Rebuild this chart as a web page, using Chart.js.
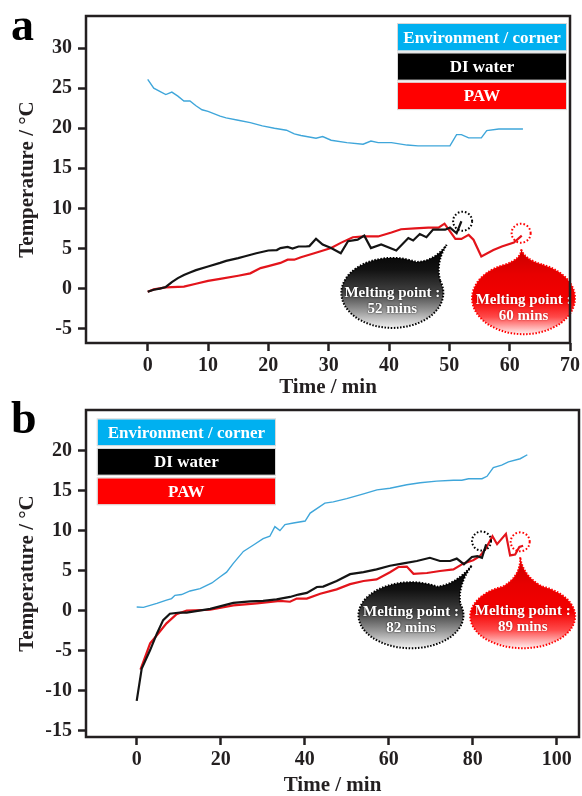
<!DOCTYPE html>
<html>
<head>
<meta charset="utf-8">
<script src="https://cdn.jsdelivr.net/npm/chart.js@4"></script>
<style>
  body { margin: 0; background: #fff; }
  #wrap { position: relative; width: 582px; height: 796px; }
  canvas { position: absolute; left: 0; }
</style>
</head>
<body>
<div id="wrap">
  <canvas id="chartA" width="582" height="398" style="top:0"></canvas>
  <canvas id="chartB" width="582" height="398" style="top:398px"></canvas>
</div>
<script>
// series names, shared by both panels
const seriesNames = ['Environment / corner', 'DI water', 'PAW'];

// ---- panel a ----
const timeEnvA = [0, 1, 2, 3, 4, 5, 6, 7, 8, 9, 10, 12, 13, 15, 17, 19, 21, 23, 24.3, 25.4, 27.9, 29, 30.4, 33, 35.7, 37, 38.2, 40.4, 43, 44.8, 50.1, 51.2, 52, 53.2, 55.3, 56.2, 58.2, 62.2];
const envA     = [26.1, 25.0, 24.6, 24.2, 24.5, 24.0, 23.4, 23.4, 22.8, 22.3, 22.1, 21.5, 21.3, 21.0, 20.7, 20.3, 20.0, 19.75, 19.3, 19.1, 18.75, 18.96, 18.5, 18.2, 18.0, 18.4, 18.2, 18.2, 17.9, 17.8, 17.8, 19.2, 19.2, 18.8, 18.8, 19.7, 19.9, 19.9];
const timeDiA  = [0, 1, 2, 3, 4, 5, 6, 7, 8, 10, 12, 13, 15, 16, 18, 20, 21.4, 22, 23.2, 24, 25, 26.2, 26.8, 27.9, 29, 30.4, 32, 33.2, 34.8, 35.9, 37, 38.7, 41.2, 43.2, 44, 45.1, 46.2, 47.3, 49.3, 50.1, 51.2, 52];
const diA      = [-0.4, -0.15, 0.0, 0.2, 0.8, 1.3, 1.7, 2.0, 2.3, 2.75, 3.2, 3.45, 3.8, 4.0, 4.4, 4.75, 4.8, 5.05, 5.2, 5.0, 5.25, 5.25, 5.3, 6.2, 5.5, 5.05, 4.4, 5.9, 6.1, 6.6, 5.05, 5.5, 4.75, 6.3, 6.0, 6.8, 6.4, 7.35, 7.35, 7.6, 6.9, 8.4];
const timePawA = [0, 1, 3, 6, 8, 10, 12, 15, 17, 18.7, 20, 22, 23.2, 24.3, 25.4, 27.6, 30.4, 32, 34, 35.9, 38.2, 40.4, 42, 44.3, 46.5, 48.2, 49.2, 51, 52, 53.2, 54, 55.3, 57.3, 58.7, 60.7, 62];
const pawA     = [-0.4, -0.1, 0.15, 0.25, 0.6, 0.95, 1.2, 1.6, 1.9, 2.55, 2.8, 3.2, 3.6, 3.6, 3.9, 4.4, 5.05, 5.7, 6.4, 6.5, 6.5, 7.0, 7.4, 7.5, 7.6, 7.6, 8.1, 6.2, 6.2, 6.7, 6.1, 4.0, 4.8, 5.25, 5.75, 6.6];
const xTicksA = [0, 10, 20, 30, 40, 50, 60, 70];
const yTicksA = [-5, 0, 5, 10, 15, 20, 25, 30];

// ---- panel b ----
const timeEnvB = [0, 1.6, 4.8, 7.1, 8.3, 9.1, 10.7, 12.7, 15.1, 17.9, 19.8, 21.4, 23, 25.4, 27.8, 30.1, 31.7, 32.9, 34.1, 35.3, 37.3, 40.1, 41.3, 44.8, 46.8, 50, 54, 57.2, 60.3, 64.3, 67.5, 71.4, 75.4, 77.4, 79, 82.2, 83.4, 84.9, 86.9, 88.5, 91.3, 93];
const envB     = [0.45, 0.4, 0.9, 1.3, 1.5, 1.9, 2.0, 2.45, 2.75, 3.45, 4.2, 4.8, 5.9, 7.4, 8.2, 9.0, 9.3, 10.5, 10.0, 10.75, 10.95, 11.2, 12.2, 13.45, 13.6, 14.0, 14.6, 15.1, 15.3, 15.75, 16.0, 16.2, 16.3, 16.3, 16.5, 16.5, 16.8, 17.9, 18.2, 18.6, 19.0, 19.5];
const timeDiB  = [0, 1.2, 3.2, 4.8, 6.3, 7.9, 10.3, 11.9, 17.5, 23, 27, 30.1, 33.3, 36.5, 38.5, 40.5, 42.9, 44.4, 47.6, 50.8, 54, 57.1, 60.3, 63.5, 66.7, 69.8, 72.2, 74.6, 76.2, 77.9, 79.8, 81.1, 82.2, 83.2];
const diB      = [-11.3, -7.25, -4.95, -2.9, -1.2, -0.4, -0.25, -0.25, 0.2, 0.95, 1.15, 1.2, 1.4, 1.7, 2.0, 2.2, 2.95, 3.0, 3.7, 4.55, 4.8, 5.15, 5.6, 5.9, 6.2, 6.6, 6.2, 6.2, 6.5, 5.8, 6.7, 6.8, 6.6, 8.3];
const timePawB = [0.9, 3.2, 4.8, 7.1, 9.5, 11.9, 17.5, 23, 28.6, 34.1, 36.5, 38.1, 40.5, 43.7, 47.6, 50.8, 54, 57.1, 60.3, 62.3, 64.3, 65.9, 69.1, 72.2, 75.4, 77.8, 80.1, 81.7, 83.1, 84.7, 85.8, 87.9, 88.9, 90.1, 91.1, 92];
const pawB     = [-7.4, -4.1, -3.1, -1.6, -0.45, 0.0, 0.1, 0.65, 0.9, 1.2, 1.1, 1.5, 1.5, 2.1, 2.65, 3.3, 3.7, 3.9, 4.8, 5.45, 5.5, 4.6, 4.7, 4.95, 5.15, 5.9, 6.3, 6.8, 7.75, 9.3, 8.3, 9.6, 6.9, 7.0, 7.95, 8.1];
const xTicksB = [0, 20, 40, 60, 80, 100];
const yTicksB = [-15, -10, -5, 0, 5, 10, 15, 20];

// melting points (minutes, °C at the circled point)
const meltA = [{ label: '52 mins', x: 52.2, y: 8.4 }, { label: '60 mins', x: 61.9, y: 6.9 }];
const meltB = [{ label: '82 mins', x: 82.1, y: 8.7 }, { label: '89 mins', x: 91.3, y: 8.6 }];

const ink = '#231f20';
const lineColors = ['#3fa6da', '#141414', '#e3141b'];
const legendColors = ['#00b0f0', '#000000', '#ff0000'];
const serif = "'Liberation Serif', 'Times New Roman', serif";
Chart.defaults.font.family = serif;

function pairs(xs, ys) {
  return xs.map((x, i) => ({ x: x, y: ys[i] }));
}

function drawBubble(ctx, sx, sy, b, dark, text) {
  const cx = sx.getPixelForValue(b.center[0]), cy = sy.getPixelForValue(b.center[1]);
  const tx = sx.getPixelForValue(b.tip[0]), ty = sy.getPixelForValue(b.tip[1]);
  const r1 = b.base[0] * Math.PI / 180, r2 = b.base[1] * Math.PI / 180;
  const p1 = { x: cx + b.rx * Math.cos(r1), y: cy + b.ry * Math.sin(r1) };
  const p2 = { x: cx + b.rx * Math.cos(r2), y: cy + b.ry * Math.sin(r2) };
  const mx = (p1.x + p2.x) / 2, my = (p1.y + p2.y) / 2;
  const ctl = p => ({ x: p.x + (tx - p.x) * 0.35 + (mx - p.x) * 0.6, y: p.y + (ty - p.y) * 0.35 + (my - p.y) * 0.6 });
  const c1 = ctl(p1), c2 = ctl(p2);

  ctx.save();
  ctx.beginPath();
  ctx.moveTo(p2.x, p2.y);
  ctx.ellipse(cx, cy, b.rx, b.ry, 0, r2, r1 + 2 * Math.PI);
  ctx.quadraticCurveTo(c1.x, c1.y, tx, ty);
  ctx.quadraticCurveTo(c2.x, c2.y, p2.x, p2.y);
  ctx.closePath();
  const g = ctx.createLinearGradient(0, ty, 0, cy + b.ry);
  if (dark) {
    g.addColorStop(0, '#000');
    g.addColorStop(0.3, '#121212');
    g.addColorStop(0.58, '#444');
    g.addColorStop(0.8, '#9a9a9a');
    g.addColorStop(1, '#f2f2f2');
  } else {
    g.addColorStop(0, '#c80000');
    g.addColorStop(0.3, '#e80000');
    g.addColorStop(0.6, '#f40000');
    g.addColorStop(0.8, '#ff4a4a');
    g.addColorStop(1, '#fff0f0');
  }
  ctx.fillStyle = g;
  ctx.fill();
  ctx.setLineDash([1.5, 1.6]);
  ctx.lineWidth = 2;
  ctx.strokeStyle = dark ? '#000' : '#f00';
  ctx.stroke();

  ctx.setLineDash([]);
  ctx.fillStyle = '#fff';
  ctx.font = 'bold 15px ' + serif;
  ctx.textAlign = 'center';
  ctx.textBaseline = 'middle';
  ctx.shadowColor = dark ? 'rgba(0,0,0,0.9)' : 'rgba(140,0,0,0.7)';
  ctx.shadowBlur = 2;
  ctx.fillText('Melting point :', cx, cy + b.textDy);
  ctx.fillText(text, cx, cy + b.textDy + 16);
  ctx.restore();
}

function makeDecor(p) {
  return {
    id: 'decor',
    afterDraw(chart) {
      const ctx = chart.ctx;
      const a = chart.chartArea;
      const sx = chart.scales.x, sy = chart.scales.y;

      // dotted rings at the melting points
      p.melt.forEach((m, i) => {
        ctx.save();
        ctx.beginPath();
        ctx.arc(sx.getPixelForValue(m.x), sy.getPixelForValue(m.y), 9.5, 0, 2 * Math.PI);
        ctx.setLineDash([1.6, 2]);
        ctx.lineWidth = 2;
        ctx.strokeStyle = i === 0 ? '#000' : '#f00';
        ctx.stroke();
        ctx.restore();
      });

      // speech bubbles
      p.bubbles.forEach((b, i) => drawBubble(ctx, sx, sy, b, i === 0, p.melt[i].label));

      // legend boxes
      ctx.save();
      ctx.font = 'bold 17px ' + serif;
      ctx.textAlign = 'center';
      ctx.textBaseline = 'middle';
      seriesNames.forEach((name, i) => {
        const y = p.legend.y + i * p.legend.step;
        ctx.fillStyle = legendColors[i];
        ctx.fillRect(p.legend.x, y, p.legend.w, p.legend.h);
        ctx.strokeStyle = '#d8d8d8';
        ctx.lineWidth = 1;
        ctx.strokeRect(p.legend.x - 0.5, y - 0.5, p.legend.w + 1, p.legend.h + 1);
        ctx.fillStyle = '#fff';
        ctx.fillText(name, p.legend.x + p.legend.w / 2, y + p.legend.h / 2 + 1);
      });
      ctx.restore();

      // frame
      ctx.save();
      ctx.strokeStyle = ink;
      ctx.lineWidth = 2.5;
      ctx.strokeRect(a.left, a.top, a.right - a.left, a.bottom - a.top);
      ctx.restore();

      // panel letter
      ctx.save();
      ctx.fillStyle = '#000';
      ctx.font = 'bold 46px ' + serif;
      ctx.textBaseline = 'alphabetic';
      ctx.fillText(p.letter, 11, p.letterY);
      ctx.restore();
    }
  };
}

function makeChart(id, p) {
  const grid = { drawOnChartArea: false, tickLength: 8, tickWidth: 2.5, tickColor: ink };
  const tickFont = { size: 20, weight: 'bold' };
  const titleFont = { size: 21, weight: 'bold', lineHeight: 1 };
  return new Chart(document.getElementById(id), {
    type: 'line',
    data: {
      datasets: [
        { label: seriesNames[0], data: pairs(p.tEnv, p.env), borderColor: lineColors[0], borderWidth: 1.4 },
        { label: seriesNames[1], data: pairs(p.tDi, p.di), borderColor: lineColors[1], borderWidth: 2.2 },
        { label: seriesNames[2], data: pairs(p.tPaw, p.paw), borderColor: lineColors[2], borderWidth: 2.2 }
      ]
    },
    options: {
      responsive: false,
      animation: false,
      devicePixelRatio: 1,
      layout: { padding: { top: p.top, right: p.right, left: 0, bottom: 0 } },
      elements: { point: { radius: 0 }, line: { tension: 0, fill: false } },
      plugins: { legend: { display: false }, tooltip: { enabled: false } },
      scales: {
        x: {
          type: 'linear', min: p.xMin, max: p.xMax,
          afterBuildTicks: s => { s.ticks = p.xTicks.map(v => ({ value: v })); },
          afterFit: s => { s.height = p.xAxisH; s.paddingLeft = 0; s.paddingRight = 0; },
          grid: grid, border: { display: false },
          ticks: { font: tickFont, color: ink, padding: 3, maxRotation: 0, autoSkip: false },
          title: { display: true, text: 'Time / min', font: titleFont, color: ink, padding: 0 }
        },
        y: {
          type: 'linear', min: p.yMin, max: p.yMax,
          afterBuildTicks: s => { s.ticks = p.yTicks.map(v => ({ value: v })); },
          afterFit: s => { s.width = 86; s.paddingTop = 0; s.paddingBottom = 0; },
          grid: grid, border: { display: false },
          ticks: { font: tickFont, color: ink, padding: 6, autoSkip: false },
          title: { display: true, text: 'Temperature / °C', font: titleFont, color: ink, padding: { top: 17, bottom: 0 } }
        }
      }
    },
    plugins: [makeDecor(p)]
  });
}

makeChart('chartA', {
  tEnv: timeEnvA, env: envA, tDi: timeDiA, di: diA, tPaw: timePawA, paw: pawA,
  xTicks: xTicksA, yTicks: yTicksA,
  xMin: -10.23, xMax: 70, yMin: -6.79, yMax: 34,
  top: 16, right: 12, xAxisH: 55,
  melt: meltA,
  bubbles: [
    { tip: [49.55, 5.46], center: [40.55, -0.54], rx: 51, ry: 35, base: [-62, -20], textDy: 0 },
    { tip: [61.9, 4.96], center: [62.3, -1.2], rx: 51.5, ry: 36, base: [-112, -68], textDy: 2 }
  ],
  legend: { x: 398, y: 24, w: 168, h: 26.5, step: 29.3 },
  letter: 'a', letterY: 40
});

makeChart('chartB', {
  tEnv: timeEnvB, env: envB, tDi: timeDiB, di: diB, tPaw: timePawB, paw: pawB,
  xTicks: xTicksB, yTicks: yTicksB,
  xMin: -12.07, xMax: 105.3, yMin: -15.83, yMax: 25.1,
  top: 12, right: 3, xAxisH: 59,
  melt: meltB,
  bubbles: [
    { tip: [79.8, 5.66], center: [65.3, -0.59], rx: 52.5, ry: 33, base: [-60, -20], textDy: -3 },
    { tip: [91.3, 6.7], center: [91.9, -0.71], rx: 52.5, ry: 32, base: [-112, -68], textDy: -5 }
  ],
  legend: { x: 97.7, y: 21.3, w: 177.3, h: 26, step: 29.5 },
  letter: 'b', letterY: 35
});
</script>
</body>
</html>
